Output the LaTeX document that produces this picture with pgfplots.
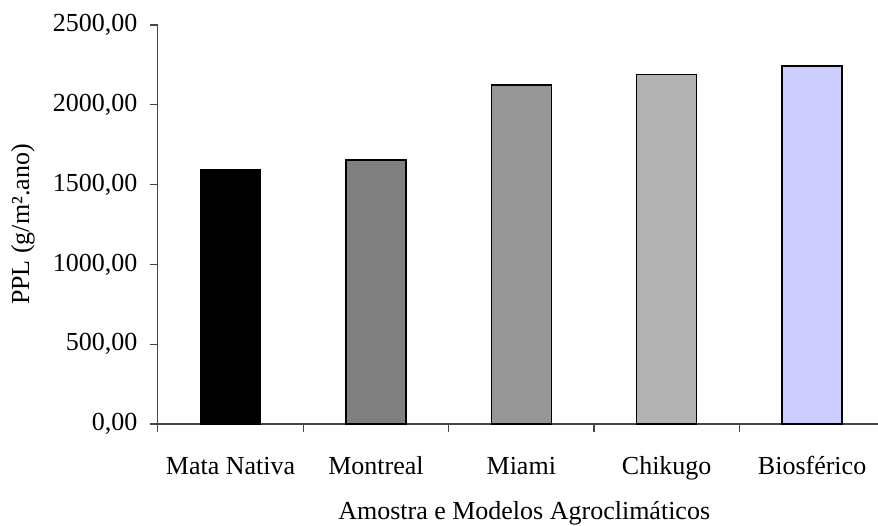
\documentclass[border=0pt]{standalone}
\usepackage{pgfplots}
\pgfplotsset{compat=1.18}
\usepackage{fontspec}
\setmainfont{Liberation Serif}
\definecolor{cMata}{RGB}{0,0,0}
\definecolor{cMont}{RGB}{128,128,128}
\definecolor{cMiami}{RGB}{150,150,150}
\definecolor{cChik}{RGB}{178,178,178}
\definecolor{cBio}{RGB}{204,204,255}
\definecolor{axc}{RGB}{70,70,70}
\begin{document}
\begin{tikzpicture}
\begin{axis}[
  at={(157.8pt,102pt)}, anchor=south west,
  width=727pt, height=399pt, scale only axis,
  xmin=-0.5, xmax=4.5, ymin=0, ymax=2500,
  axis x line*=bottom, axis y line*=left,
  axis line style={-, line width=1.1pt, color=axc},
  ytick={0,500,1000,1500,2000,2500},
  scaled y ticks=false,
  xtick={0,1,2,3,4},
  xticklabels={Mata Nativa, Montreal, Miami, Chikugo, Biosférico},
  minor xtick={-0.5,0.5,1.5,2.5,3.5,4.5},
  tick align=outside,
  major tick length=8pt, minor tick length=8.5pt,
  major x tick style={draw=none},
  every tick/.style={line width=1.1pt, color=axc},
  font=\fontsize{26}{31}\selectfont,
  yticklabel style={xshift=-9pt, /pgf/number format/fixed, /pgf/number format/fixed zerofill, /pgf/number format/precision=2, /pgf/number format/use comma, /pgf/number format/1000 sep={}, /pgf/number format/assume math mode=true},
  xticklabel style={anchor=base, inner sep=0pt, yshift=-43pt},
  ylabel={PPL (g/m².ano)},
  ylabel style={at={(axis description cs:-0.1854,0.5)}, anchor=center},
  xlabel={Amostra e Modelos Agroclimáticos},
  xlabel style={at={(axis description cs:0.504,-0.2406)}, anchor=base, inner sep=0pt},
  clip=false,
]
\addplot[ybar, bar width=0.413, bar shift=0pt, fill=cMata, draw=black, line width=1.5pt] coordinates {(0,1593)};
\addplot[ybar, bar width=0.413, bar shift=0pt, fill=cMont, draw=black, line width=1.5pt] coordinates {(1,1655)};
\addplot[ybar, bar width=0.413, bar shift=0pt, fill=cMiami, draw=black, line width=1.5pt] coordinates {(2,2124)};
\addplot[ybar, bar width=0.413, bar shift=0pt, fill=cChik, draw=black, line width=1.5pt] coordinates {(3,2189)};
\addplot[ybar, bar width=0.413, bar shift=0pt, fill=cBio, draw=black, line width=1.5pt] coordinates {(4,2243)};
\end{axis}
\pgfresetboundingbox
\useasboundingbox (0pt,0pt) rectangle (878pt,526pt);
\end{tikzpicture}
\end{document}
